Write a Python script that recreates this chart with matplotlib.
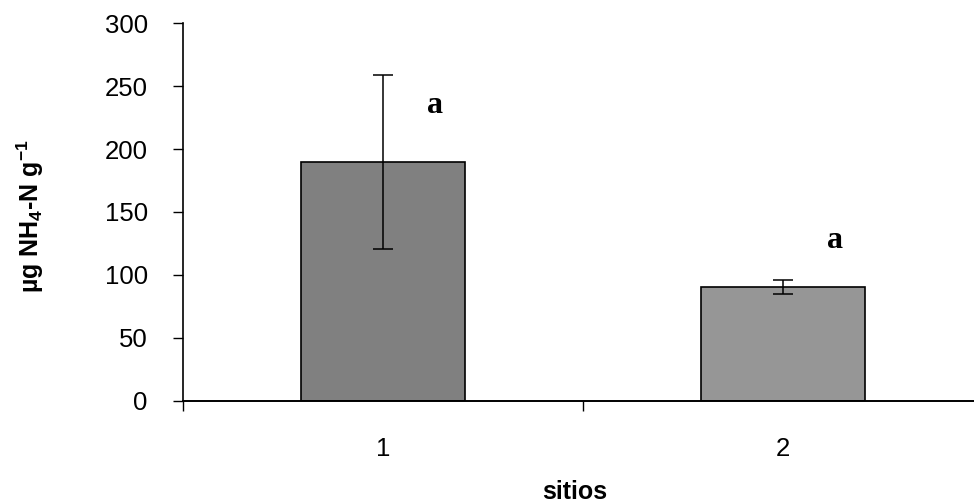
import numpy as np
import matplotlib.pyplot as plt

# amonio por sitio (media y desviación)
sitios = ["1", "2"]
nh4_media = [189.5, 90.5]
nh4_error = [69.0, 5.5]
colores = ["#808080", "#969696"]
letras = ["a", "a"]
letras_y = [229, 121]

plt.rcParams["font.family"] = ["Liberation Sans", "DejaVu Sans"]
plt.rcParams["mathtext.fontset"] = "custom"
plt.rcParams["mathtext.rm"] = "Liberation Sans:bold"
plt.rcParams["mathtext.bf"] = "Liberation Sans:bold"
plt.rcParams["mathtext.default"] = "rm"

fig = plt.figure(figsize=(9.74, 5.03), dpi=100)
ax = fig.add_axes([0.1876, 0.2034, 0.8214, 0.7503])

x = np.arange(len(sitios))
ax.bar(x, nh4_media, width=0.41, color=colores, edgecolor="black", linewidth=1.2, zorder=2)
ax.errorbar(x, nh4_media, yerr=nh4_error, fmt="none", ecolor="black",
            elinewidth=1.1, capsize=7, capthick=1.1, zorder=3)

# letras de significancia
for xi, letra, ly in zip(x, letras, letras_y):
    ax.text(xi + 0.13, ly, letra, ha="center", va="baseline",
            fontsize=23, fontweight="bold", family="Liberation Serif")

ax.set_xlim(-0.5, 1.5)
ax.set_ylim(0, 300)
ax.set_yticks(np.arange(0, 301, 50))
ax.set_xticks(x)
ax.set_xticklabels(sitios)
ax.set_xticks([-0.5, 0.5, 1.5], minor=True)

ax.tick_params(axis="y", direction="out", length=7.2, width=1, pad=18, labelsize=18.5)
ax.tick_params(axis="x", which="major", length=0, pad=26, labelsize=18.5)
ax.tick_params(axis="x", which="minor", direction="out", length=7.2, width=1)

for lado in ["top", "right"]:
    ax.spines[lado].set_visible(False)
ax.spines["left"].set_linewidth(1.2)
ax.spines["bottom"].set_linewidth(1.4)

ax.set_ylabel(r"µg NH$_4$-N g$^{-1}$", fontsize=18, fontweight="bold")
ax.yaxis.label.set_va("center")
ax.yaxis.set_label_coords(-0.19, 0.49)
ax.set_xlabel("sitios", fontsize=18, fontweight="bold")
ax.xaxis.set_label_coords(0.49, -0.21)
ax.xaxis.label.set_va("top")

fig.savefig("out.png", dpi=100)
